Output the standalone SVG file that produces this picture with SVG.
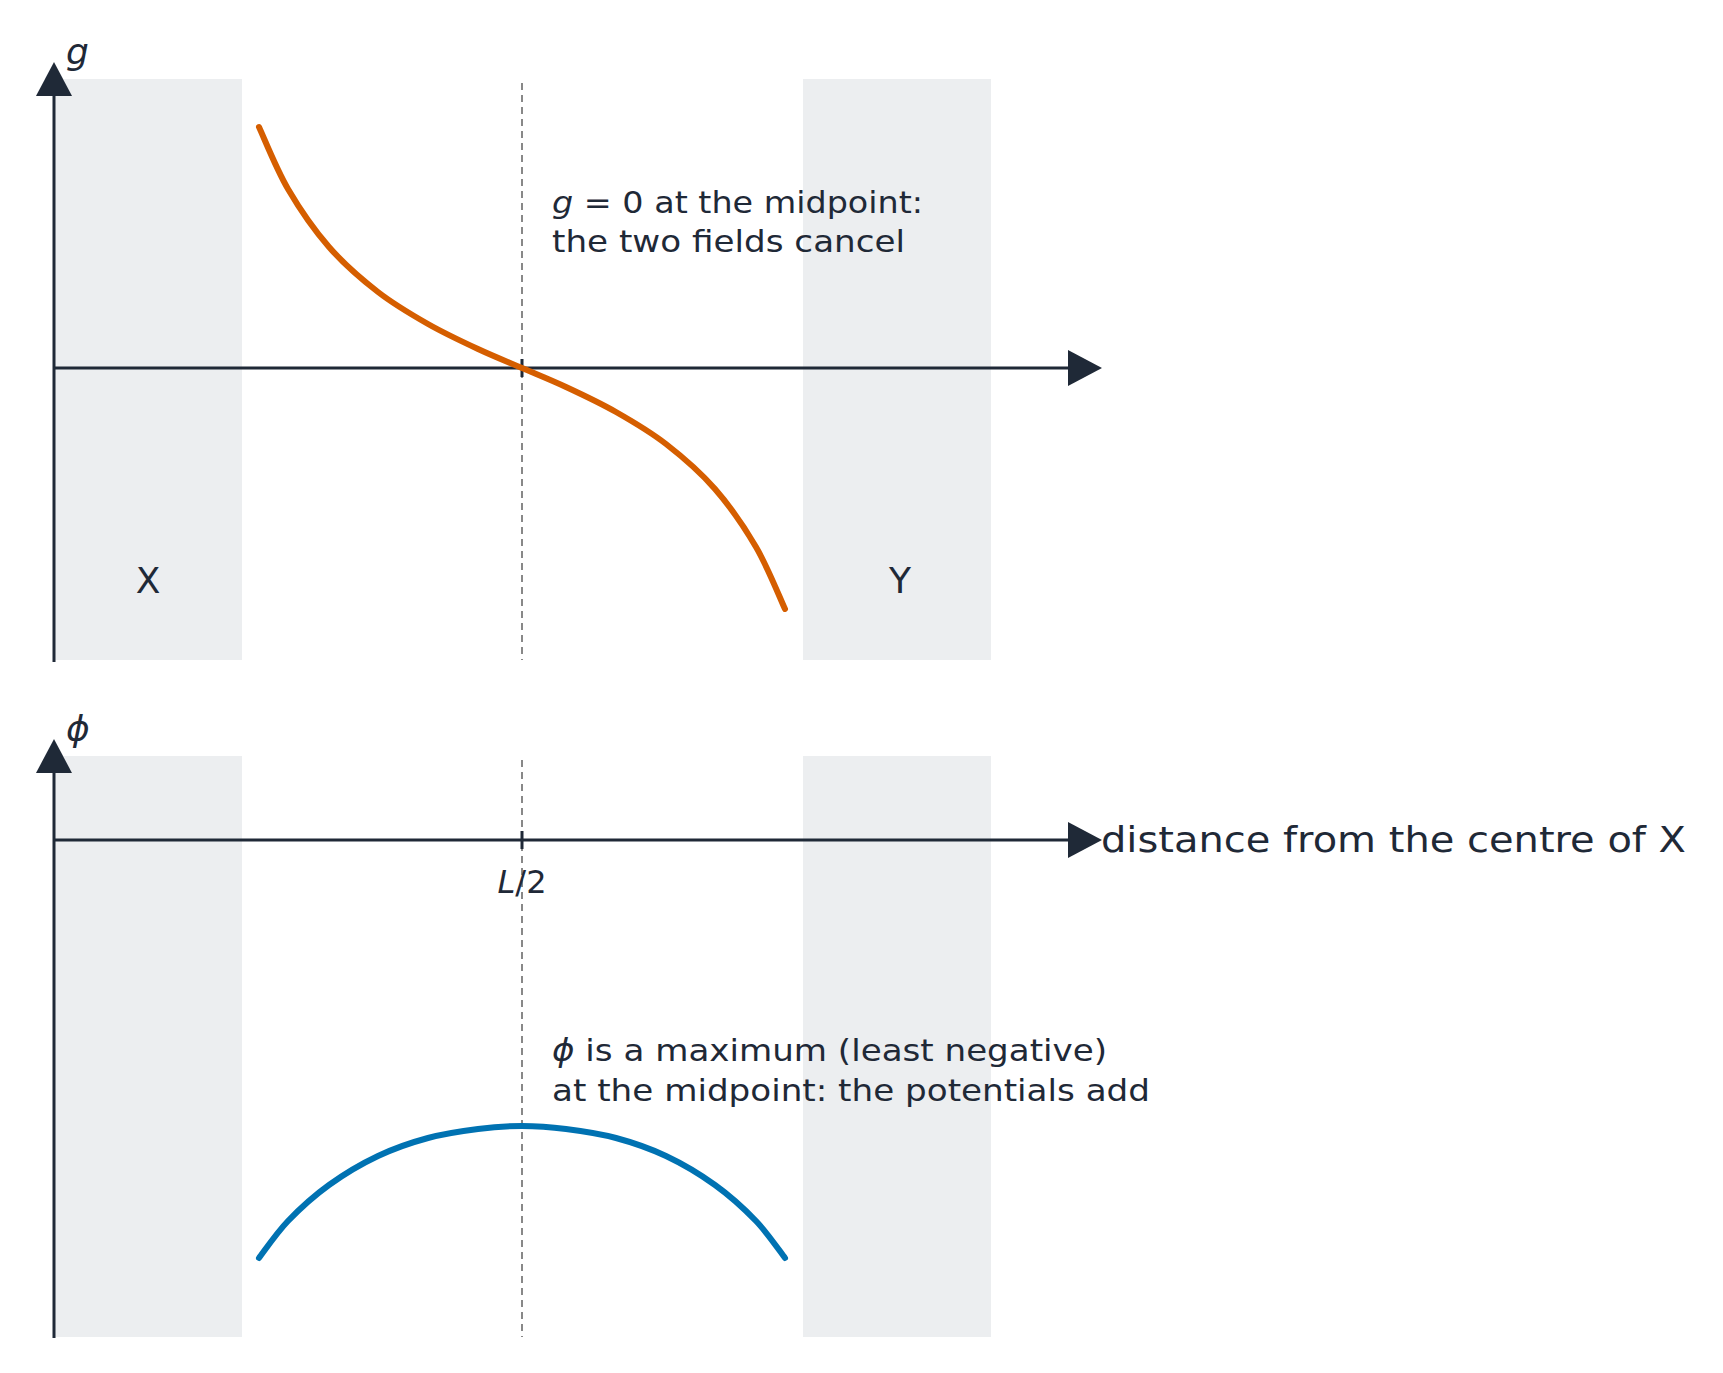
<svg xmlns="http://www.w3.org/2000/svg" width="1723" height="1373" viewBox="0 0 1723 1373">
<defs>
<style>
text{font-family:"DejaVu Sans","Liberation Sans",sans-serif;fill:#1f2937}
.ax{stroke:#1f2937;stroke-width:3;fill:none}
.body{fill:#eceef0}
.dash{stroke:#888;stroke-width:2;stroke-dasharray:7,5;fill:none}
.ann{font-size:31px}
.crv{fill:none;stroke-width:6;stroke-linecap:round;stroke-linejoin:round}
</style>
<marker id="ahead" viewBox="0 0 36 36" refX="2" refY="18" markerWidth="36" markerHeight="36" markerUnits="userSpaceOnUse" orient="auto"><path d="M0,0L34,18L0,36Z" fill="#1f2937"/></marker>
</defs>
<rect width="1723" height="1373" fill="#fff"/>
<g id="bodies">
<rect class="body" x="54" y="79" width="188" height="581"/>
<rect class="body" x="803" y="79" width="188" height="581"/>
<rect class="body" x="54" y="756" width="188" height="581"/>
<rect class="body" x="803" y="756" width="188" height="581"/>
</g>
<g id="midlines">
<line class="dash" x1="522" y1="83" x2="522" y2="660"/>
<line class="dash" x1="522" y1="760" x2="522" y2="1337"/>
</g>
<g id="connectors">
<line class="ax" x1="54" y1="662" x2="54" y2="94" marker-end="url(#ahead)"/>
<line class="ax" x1="54" y1="368" x2="1070" y2="368" marker-end="url(#ahead)"/>
<line class="ax" x1="54" y1="1338" x2="54" y2="771" marker-end="url(#ahead)"/>
<line class="ax" x1="54" y1="840" x2="1070" y2="840" marker-end="url(#ahead)"/>
<line class="ax" x1="522" y1="359" x2="522" y2="377"/>
<line class="ax" x1="522" y1="831" x2="522" y2="849"/>
</g>
<g id="g-curve">
<path class="crv" stroke="#d55e00" d="M259,127 C263.8,137.3 276.3,169 288,189 C299.7,209 314,229.8 329,247 C344,264.2 361.5,279.2 378,292 C394.5,304.8 411.3,314.5 428,324 C444.7,333.5 462.3,341.7 478,349 C493.7,356.3 507.3,361.7 522,368 C536.7,374.3 550.3,379.7 566,387 C581.7,394.3 599.3,402.5 616,412 C632.7,421.5 649.5,431.2 666,444 C682.5,456.8 700,471.8 715,489 C730,506.2 744.3,527 756,547 C767.7,567 780.2,598.7 785,609"/>
</g>
<g id="phi-curve">
<path class="crv" stroke="#0072b2" d="M259,1258 C263.8,1251.8 276.3,1233.2 288,1221 C299.7,1208.8 314,1195.8 329,1185 C344,1174.2 361.5,1163.8 378,1156 C394.5,1148.2 411.3,1142.5 428,1138 C444.7,1133.5 462.3,1131 478,1129 C493.7,1127 507.3,1126 522,1126 C536.7,1126 550.3,1127 566,1129 C581.7,1131 599.3,1133.5 616,1138 C632.7,1142.5 649.5,1148.2 666,1156 C682.5,1163.8 700,1174.2 715,1185 C730,1195.8 744.3,1208.8 756,1221 C767.7,1233.2 780.2,1251.8 785,1258"/>
</g>
<g id="labels">
<text x="66" y="64" font-size="36" font-style="italic">g</text>
<text x="66" y="741" font-size="36" font-style="italic">ϕ</text>
<text x="148" y="593" font-size="36" text-anchor="middle">X</text>
<text x="900" y="593" font-size="36" text-anchor="middle">Y</text>
<text x="522" y="893" font-size="32" text-anchor="middle"><tspan font-style="italic">L</tspan>/2</text>
<text x="1101" y="852" font-size="36" textLength="585" lengthAdjust="spacingAndGlyphs">distance from the centre of X</text>
<text class="ann" x="552" y="213" textLength="371" lengthAdjust="spacingAndGlyphs"><tspan font-style="italic">g</tspan> = 0 at the midpoint:</text>
<text class="ann" x="552" y="252" textLength="353" lengthAdjust="spacingAndGlyphs">the two fields cancel</text>
<text class="ann" x="552" y="1061" textLength="555" lengthAdjust="spacingAndGlyphs"><tspan font-style="italic">ϕ</tspan> is a maximum (least negative)</text>
<text class="ann" x="552" y="1101" textLength="598" lengthAdjust="spacingAndGlyphs">at the midpoint: the potentials add</text>
</g>
</svg>
